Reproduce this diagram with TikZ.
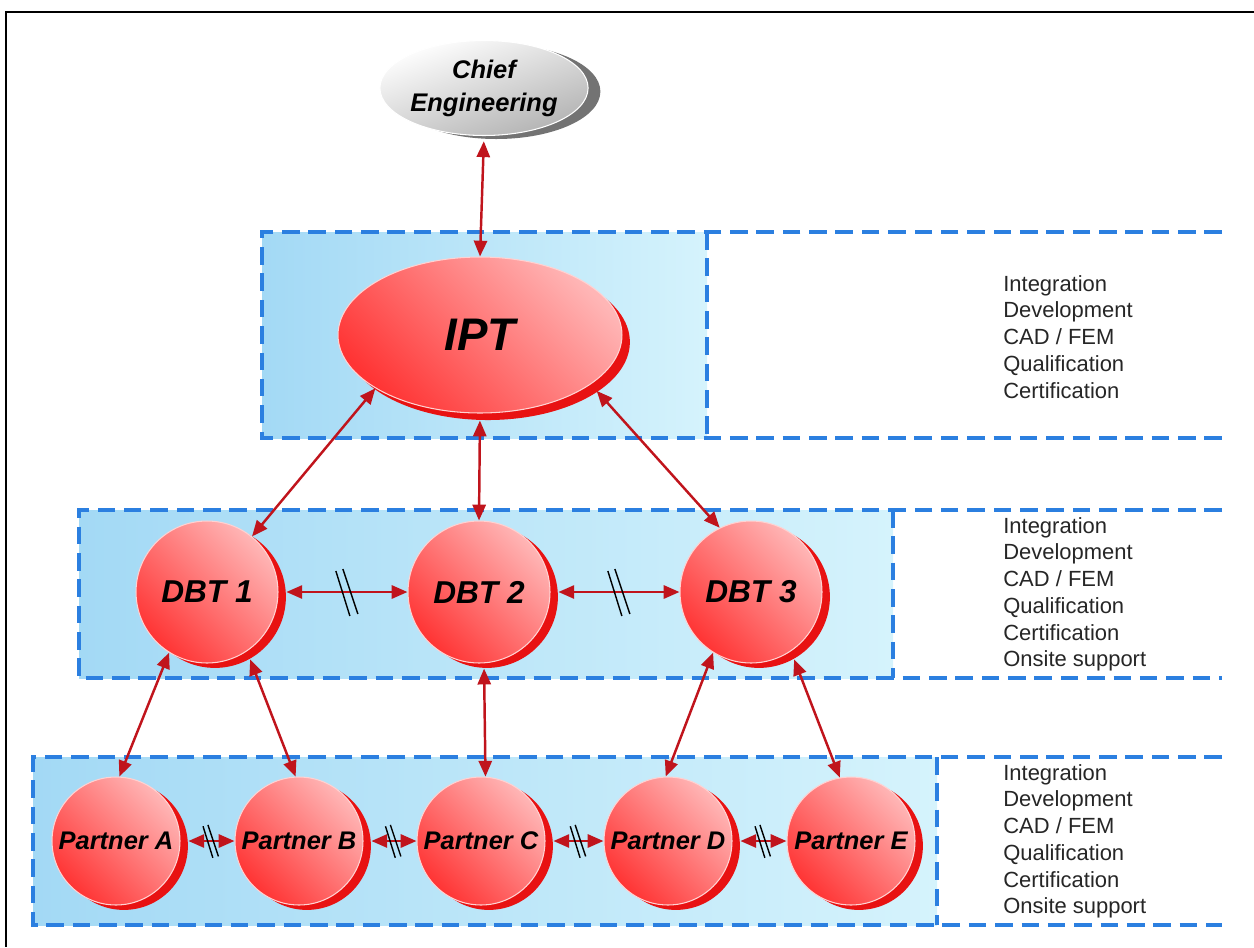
\documentclass[tikz,border=0pt]{standalone}
\usepackage{fontspec}
\setmainfont{Liberation Sans}
\usetikzlibrary{shapes.geometric,shadows,arrows.meta,calc}

\definecolor{bandL}{HTML}{A3D9F5}
\definecolor{bandR}{HTML}{D5F3FC}
\definecolor{dashBlue}{HTML}{2B7FE0}
\definecolor{discLight}{HTML}{FFB6B6}
\definecolor{discDark}{HTML}{FF3434}
\definecolor{discSide}{HTML}{E81212}
\definecolor{discRim}{HTML}{FFD2D2}
\definecolor{linkRed}{HTML}{C0141C}

\tikzset{
  disc/.style={circle, inner sep=0pt, top color=discLight, bottom color=discDark,
    shading angle=-45, draw=discRim, line width=0.6pt,
    copy shadow={shadow xshift=4.5pt, shadow yshift=#1, fill=discSide, draw=none}},
  disc/.default=-2.8pt,
  dbt/.style={disc, minimum size=2.84cm, font=\fontsize{18}{20}\bfseries\itshape},
  partner/.style={disc, minimum size=2.56cm, font=\fontsize{14.5}{17}\bfseries\itshape},
  ipt/.style={disc=-4pt, ellipse, minimum width=5.68cm, minimum height=3.12cm,
    font=\fontsize{26}{30}\bfseries\itshape},
  chief/.style={ellipse, inner sep=0pt, minimum width=3.48cm, minimum height=1.9cm,
    top color=white, bottom color=gray!60, shading angle=20, draw=white, line width=0.6pt,
    copy shadow={shadow xshift=7pt, shadow yshift=-2pt, fill=black!55, draw=none},
    align=center, font=\fontsize{14.5}{18.8}\bfseries\itshape},
  band/.style={dashBlue, line width=2pt, dash pattern=on 10pt off 5pt},
  duties/.style={align=left, inner sep=0pt, anchor=north west, text=black!85,
    font=\fontsize{12.5}{15.2}\selectfont},
  link/.style={linkRed, line width=1.4pt, {Triangle[length=9pt,width=7.5pt]}-{Triangle[length=9pt,width=7.5pt]}},
  brk/.pic={\draw[black, line width=0.8pt] (-11,-21) -- (3,24) (-4,-23) -- (11,22);}
}

\begin{document}
\begin{tikzpicture}[x=0.02cm, y=-0.02cm]
            \useasboundingbox (0,0) rectangle (1254,947);
            \draw[line width=1.7pt] (1254,12) -- (6,12) -- (6,947);

            \shade[left color=bandL, right color=bandR] (262,232) rectangle (707,438);
            \shade[left color=bandL, right color=bandR] (79,510) rectangle (893,678);
            \shade[left color=bandL, right color=bandR] (33,757) rectangle (937,925);
            \draw[band] (1222,232) -- (262,232) -- (262,438) -- (1222,438) (707,232) -- (707,438);
            \draw[band] (1222,510) -- (79,510) -- (79,678) -- (1222,678) (893,510) -- (893,678);
            \draw[band] (1222,757) -- (33,757) -- (33,925) -- (1222,925) (937,757) -- (937,925);

            \node[duties] (dutyI) at (1003,275) {Integration\\Development\\CAD / FEM\\Qualification\\Certification};
            \node[duties] (dutyD) at (1003,517) {Integration\\Development\\CAD / FEM\\Qualification\\Certification\\Onsite support};
            \node[duties] (dutyP) at (1003,764) {Integration\\Development\\CAD / FEM\\Qualification\\Certification\\Onsite support};

            \node[chief] (chief) at (484,88) {Chief\\Engineering};
            \node[ipt] (ipt) at (480,335) {IPT};
            \node[dbt] (dbtA) at (207,592) {DBT 1};
            \node[dbt] (dbtB) at (479,592) {DBT 2};
            \node[dbt] (dbtC) at (751,592) {DBT 3};
            \node[partner] (pA) at (116,841) {Partner A};
            \node[partner] (pB) at (299,841) {Partner B};
            \node[partner] (pC) at (481,841) {Partner C};
            \node[partner] (pD) at (668,841) {Partner D};
            \node[partner] (pE) at (851,841) {Partner E};

            \draw[link, shorten <=3pt] (chief.south) -- (ipt.north);
            \draw[link] (ipt.207) -- (dbtA.51);
            \draw[link, shorten <=4pt] (ipt.south) -- (dbtB.north);
            \draw[link, shorten <=5pt] (ipt.336) -- (dbtC.116);

            \draw[link, shorten <=4.5pt] (dbtA.east) -- (dbtB.west);
            \draw[link, shorten <=4.5pt] (dbtB.east) -- (dbtC.west);
            \pic at ($(dbtA.east)!.53!(dbtB.west)$) {brk};
            \pic at ($(dbtB.east)!.53!(dbtC.west)$) {brk};

            \draw[link] (dbtA.238) -- (pA.87);
            \draw[link, shorten <=5pt] (dbtA.304) -- (pB.93);
            \draw[link, shorten <=3pt] (dbtB.274) -- (pC.86);
            \draw[link] (dbtC.238) -- (pD.92);
            \draw[link, shorten <=5pt] (dbtC.304) -- (pE.100);

            \draw[link, shorten <=4.5pt] (pA.east) -- (pB.west);
            \draw[link, shorten <=4.5pt] (pB.east) -- (pC.west);
            \draw[link, shorten <=4.5pt] (pC.east) -- (pD.west);
            \draw[link, shorten <=4.5pt] (pD.east) -- (pE.west);
            \pic[scale=.7] at ($(pA.east)!.56!(pB.west)$) {brk};
            \pic[scale=.7] at ($(pB.east)!.56!(pC.west)$) {brk};
            \pic[scale=.7] at ($(pC.east)!.56!(pD.west)$) {brk};
            \pic[scale=.7] at ($(pD.east)!.56!(pE.west)$) {brk};
\end{tikzpicture}
\end{document}
